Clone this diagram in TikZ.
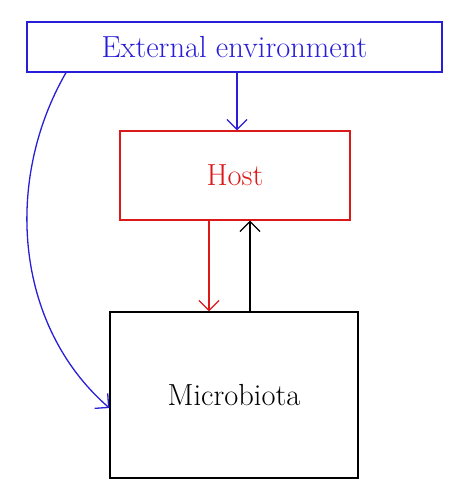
\documentclass[tikz,border=0pt]{standalone}
\usepackage{fontspec}
\usetikzlibrary{arrows.meta}
\definecolor{eblue}{RGB}{40,30,215}
\definecolor{hred}{RGB}{220,25,25}
\tikzset{
  box/.style={draw, line width=1.3pt, inner sep=0pt, font=\fontsize{30.5}{36}\selectfont},
  arr/.style={line width=1.3pt, -{Straight Barb[length=10pt,width=20pt]}},
}
\begin{document}
\begin{tikzpicture}[x=1pt,y=1pt]
\useasboundingbox (0,0) rectangle (466,-500);
\node[box, eblue, text=eblue, minimum width=415pt, minimum height=50pt] (ext) at (234.5,-47) {External environment};
\node[box, hred, text=hred, minimum width=230pt, minimum height=89pt] (host) at (235,-175.5) {Host};
\node[box, black, minimum width=248pt, minimum height=166pt] (micro) at (234,-395) {Microbiota};
\draw[arr, eblue] ([xshift=2.5pt]ext.south) -- ([xshift=2pt]host.north);
\draw[arr, hred] ([xshift=-26pt]host.south) -- ([xshift=-25pt]micro.north);
\draw[arr, black] ([xshift=16pt]micro.north) -- ([xshift=15pt]host.south);
\coordinate (cs) at ([xshift=-168.5pt]ext.south);
\coordinate (ce) at ([yshift=-13pt]micro.west);
\draw[arr, eblue] (cs) .. controls (4,-180) and (14,-325) .. (ce);
\end{tikzpicture}
\end{document}
